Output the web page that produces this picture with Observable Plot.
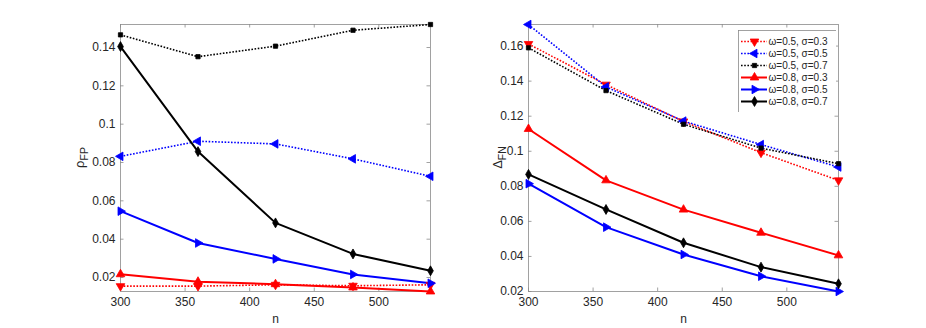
<!DOCTYPE html>
<html><head><meta charset="utf-8">
<script src="https://cdn.jsdelivr.net/npm/d3@7"></script>
<script src="https://cdn.jsdelivr.net/npm/@observablehq/plot@0.6"></script>
<style>
body{margin:0;background:#fff}
#c{position:relative;width:926px;height:328px;overflow:hidden}
#c svg{position:absolute}
</style>
</head><body><div id="c"></div>
<script>
// ---- data ----
const nValues = [300, 360, 420, 480, 540];
const seriesNames = ["ω=0.5, σ=0.3", "ω=0.5, σ=0.5", "ω=0.5, σ=0.7", "ω=0.8, σ=0.3", "ω=0.8, σ=0.5", "ω=0.8, σ=0.7"];

// left panel: rho_FP
const rhoW05S03 = [0.0155, 0.0155, 0.0162, 0.0157, 0.0162];
const rhoW05S05 = [0.0832, 0.0911, 0.0897, 0.0819, 0.0728];
const rhoW05S07 = [0.1466, 0.1352, 0.1407, 0.1490, 0.1520];
const rhoW08S03 = [0.0217, 0.0178, 0.0165, 0.0148, 0.0127];
const rhoW08S05 = [0.0546, 0.0380, 0.0297, 0.0216, 0.0170];
const rhoW08S07 = [0.1405, 0.0857, 0.0485, 0.0323, 0.0235];

// right panel: Delta_FN
const dfnW05S03 = [0.1612, 0.1380, 0.1170, 0.0992, 0.0834];
const dfnW05S05 = [0.1723, 0.1367, 0.1172, 0.1038, 0.0910];
const dfnW05S07 = [0.1590, 0.1346, 0.1154, 0.1018, 0.0929];
const dfnW08S03 = [0.1127, 0.0834, 0.0667, 0.0535, 0.0406];
const dfnW08S05 = [0.0815, 0.0567, 0.0411, 0.0287, 0.0200];
const dfnW08S07 = [0.0868, 0.0668, 0.0478, 0.0339, 0.0244];

const xTicks = [300, 350, 400, 450, 500];
const leftYTicks = [0.02, 0.04, 0.06, 0.08, 0.1, 0.12, 0.14];
const rightYTicks = [0.02, 0.04, 0.06, 0.08, 0.1, 0.12, 0.14, 0.16];

// ---- styles ----
const colors = ["#ff0000", "#0000ff", "#000000", "#ff0000", "#0000ff", "#000000"];
const dashes = ["1.6,1.6", "1.6,1.6", "1.6,1.6", null, null, null];
const widths = [1.6, 1.6, 1.6, 2, 2, 2];
const symbols = ["triangle", "triangle", "square", "triangle", "triangle", "diamond"];
const rotations = [180, -90, 0, 0, 90, 0];
const radii = [3.2, 3.2, 2.4, 3.2, 3.2, 3];

const FONT = "'Liberation Sans', Arial, Helvetica, sans-serif";

function tidy(arrays) {
  return arrays.map((vals, s) => vals.map((v, i) => ({series: seriesNames[s], s, n: nValues[i], v})));
}

function panel({arrays, yTicks, left, width, ml, mr, ylabelMain, ylabelSub, ylabelX}) {
  const data = tidy(arrays);
  const flat = data.flat();
  const xDom = d3.extent(nValues);
  const yDom = d3.extent(flat, d => d.v);
  const H = 328, mt = 24, mb = 37;
  const tx = (xDom[1] - xDom[0]) * 3.5 / (width - ml - mr);
  const ty = (yDom[1] - yDom[0]) * 3.5 / (H - mt - mb);
  const marks = [
    Plot.frame({stroke: "#8a8a8a", strokeWidth: 0.8}),
    Plot.ruleX(xTicks, {x: d => d, y1: yDom[0], y2: yDom[0] + ty, stroke: "#8a8a8a", strokeWidth: 0.8}),
    Plot.ruleX(xTicks, {x: d => d, y1: yDom[1] - ty, y2: yDom[1], stroke: "#8a8a8a", strokeWidth: 0.8}),
    Plot.ruleY(yTicks, {y: d => d, x1: xDom[0], x2: xDom[0] + tx, stroke: "#8a8a8a", strokeWidth: 0.8}),
    Plot.ruleY(yTicks, {y: d => d, x1: xDom[1] - tx, x2: xDom[1], stroke: "#8a8a8a", strokeWidth: 0.8}),
    Plot.axisX({ticks: xTicks, tickSize: 0, tickPadding: 6, label: null, fill: "#262626"}),
    Plot.axisY({ticks: yTicks, tickSize: 0, tickPadding: 5, label: null, fill: "#262626",
      tickFormat: d => String(+d.toFixed(2))}),
    Plot.text(["n"], {frameAnchor: "bottom", dy: 28, fill: "#262626", lineAnchor: "middle"})
  ];
  data.forEach((ser, s) => {
    marks.push(Plot.line(ser, {x: "n", y: "v", stroke: colors[s], strokeWidth: widths[s],
      strokeDasharray: dashes[s], strokeLinecap: "butt"}));
  });
  data.forEach((ser, s) => {
    marks.push(Plot.dot(ser, {x: "n", y: "v", symbol: symbols[s], rotate: rotations[s], r: radii[s],
      fill: colors[s], stroke: colors[s], strokeWidth: 0.8}));
  });
  const svg = Plot.plot({
    width, height: H, marginLeft: ml, marginRight: mr, marginTop: mt, marginBottom: mb,
    x: {domain: xDom}, y: {domain: yDom},
    style: {fontFamily: FONT, color: "#262626", background: "transparent"},
    marks
  });
  svg.style.left = left + "px";
  svg.style.top = "0px";
  d3.select(svg).selectAll("text").style("font-size", "12px").style("font-family", FONT);
  const t = d3.select(svg).append("text")
    .attr("transform", `translate(${ylabelX},${(mt + H - mb) / 2}) rotate(-90)`)
    .attr("text-anchor", "middle")
    .attr("fill", "#262626")
    .style("font-family", FONT)
    .style("font-size", "13px");
  t.append("tspan").text(ylabelMain);
  t.append("tspan").attr("dy", 4).style("font-size", "10.5px").text(ylabelSub);
  return svg;
}

const c = document.getElementById("c");
c.appendChild(panel({arrays: [rhoW05S03, rhoW05S05, rhoW05S07, rhoW08S03, rhoW08S05, rhoW08S07],
  yTicks: leftYTicks, left: 0, width: 463, ml: 120, mr: 33, ylabelMain: "ρ", ylabelSub: "FP", ylabelX: 84}));
c.appendChild(panel({arrays: [dfnW05S03, dfnW05S05, dfnW05S07, dfnW08S03, dfnW08S05, dfnW08S07],
  yTicks: rightYTicks, left: 463, width: 463, ml: 65, mr: 88, ylabelMain: "Δ", ylabelSub: "FN", ylabelX: 39}));

// ---- legend ----
const legendRows = seriesNames.map((name, s) => ({name, s}));
const legend = Plot.plot({
  width: 98, height: 82, margin: 0,
  x: {domain: [0, 98], range: [0, 98], axis: null},
  y: {type: "point", domain: seriesNames, range: [8.5, 72.5], padding: 0, axis: null},
  style: {fontFamily: FONT, background: "white"},
  marks: [
    Plot.frame({stroke: "#8a8a8a", strokeWidth: 0.8, fill: "white"}),
    ...legendRows.map(r => Plot.ruleY([r], {y: "name", x1: 3, x2: 29, stroke: colors[r.s], strokeWidth: widths[r.s], strokeDasharray: dashes[r.s]})),
    ...legendRows.map(r => Plot.dot([r], {y: "name", x: 16, symbol: symbols[r.s], rotate: rotations[r.s], r: radii[r.s], fill: colors[r.s], stroke: colors[r.s], strokeWidth: 0.8})),
    Plot.text(legendRows, {y: "name", x: 30, text: "name", textAnchor: "start", fill: "#262626"})
  ]
});
d3.select(legend).selectAll("text").style("font-size", "10px").style("font-family", FONT);
legend.style.left = "738px";
legend.style.top = "30px";
c.appendChild(legend);
</script>
</body></html>
